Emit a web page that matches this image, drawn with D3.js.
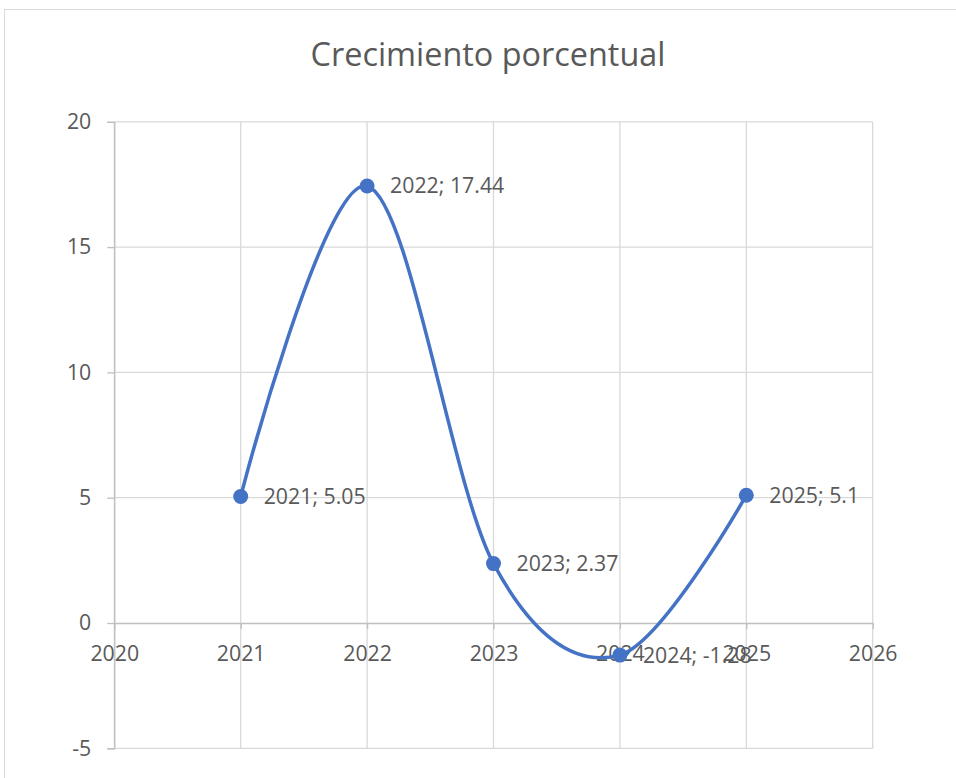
<html>
<head>
<meta charset="utf-8">
<script src="https://d3js.org/d3.v7.min.js"></script>
<style>
  body { margin: 0; background: #fff; }
  text { font-family: "Open Sans", sans-serif; fill: #595959; }
</style>
</head>
<body>
<script>
  // data
  const years = [2021, 2022, 2023, 2024, 2025];
  const growth = [5.05, 17.44, 2.37, -1.28, 5.1];
  const xTicks = [2020, 2021, 2022, 2023, 2024, 2025, 2026];
  const yTicks = [-5, 0, 5, 10, 15, 20];
  const title = "Crecimiento porcentual";

  const W = 956, H = 778;
  const points = years.map((y, i) => [y, growth[i]]);

  const svg = d3.select("body").append("svg")
      .attr("width", W).attr("height", H);

  // chart frame
  svg.append("rect")
      .attr("x", 4.5).attr("y", 9.5)
      .attr("width", 1000).attr("height", 1000)
      .attr("fill", "none").attr("stroke", "#d9d9d9");

  const x = d3.scaleLinear().domain([2020, 2026]).range([114.3, 872.7]);
  const y = d3.scaleLinear().domain([-5, 20]).range([748.3, 121.8]);

  // gridlines
  svg.append("g").selectAll("line.v")
      .data(xTicks).enter().append("line")
      .attr("x1", d => x(d)).attr("x2", d => x(d))
      .attr("y1", y(20)).attr("y2", y(-5))
      .attr("stroke", "#d9d9d9").attr("stroke-width", 1.3);

  svg.append("g").selectAll("line.h")
      .data(yTicks.filter(d => d !== 0)).enter().append("line")
      .attr("x1", x(2020)).attr("x2", x(2026))
      .attr("y1", d => y(d)).attr("y2", d => y(d))
      .attr("stroke", "#d9d9d9").attr("stroke-width", 1.3);

  // y axis
  const yAxis = svg.append("g")
      .attr("transform", `translate(${x(2020)},0)`)
      .call(d3.axisLeft(y).tickValues(yTicks).tickFormat(d => String(d))
        .tickSize(7).tickPadding(16));
  yAxis.select(".domain").attr("stroke", "#bfbfbf").attr("stroke-width", 1.3);
  yAxis.selectAll(".tick line").attr("stroke", "#bfbfbf").attr("stroke-width", 1.3);
  yAxis.selectAll("text")
      .style("font-family", '"Open Sans", sans-serif')
      .style("font-size", "21.3px").attr("fill", "#595959");

  // x axis crossing at 0
  const xAxis = svg.append("g")
      .attr("transform", `translate(0,${y(0)})`)
      .call(d3.axisBottom(x).tickValues(xTicks).tickFormat(d3.format("d"))
        .tickSize(6).tickPadding(17).tickSizeOuter(0));
  xAxis.select(".domain").attr("stroke", "#bfbfbf").attr("stroke-width", 1.3);
  xAxis.selectAll(".tick line").attr("stroke", "#bfbfbf").attr("stroke-width", 1.3);
  xAxis.selectAll("text")
      .style("font-family", '"Open Sans", sans-serif')
      .style("font-size", "21.3px").attr("fill", "#595959");

  // smooth line
  const line = d3.line()
      .x(d => x(d[0]))
      .y(d => y(d[1]))
      .curve(d3.curveCardinal.tension(0));

  svg.append("path")
      .datum(points)
      .attr("d", line)
      .attr("fill", "none")
      .attr("stroke", "#4472c4")
      .attr("stroke-width", 3.5)
      .attr("stroke-linecap", "round");

  svg.append("g").selectAll("circle")
      .data(points).enter().append("circle")
      .attr("cx", d => x(d[0]))
      .attr("cy", d => y(d[1]))
      .attr("r", 7.5)
      .attr("fill", "#4472c4");

  // data labels
  svg.append("g").selectAll("text")
      .data(points).enter().append("text")
      .attr("x", d => x(d[0]) + 23)
      .attr("y", d => y(d[1]))
      .attr("dy", "0.35em")
      .style("font-size", "21.3px")
      .attr("fill", "#404040")
      .text(d => d[0] + "; " + d[1]);

  // title
  svg.append("text")
      .attr("x", 488).attr("y", 66)
      .attr("text-anchor", "middle")
      .style("font-size", "32.4px")
      .attr("fill", "#595959")
      .text(title);
</script>
</body>
</html>
